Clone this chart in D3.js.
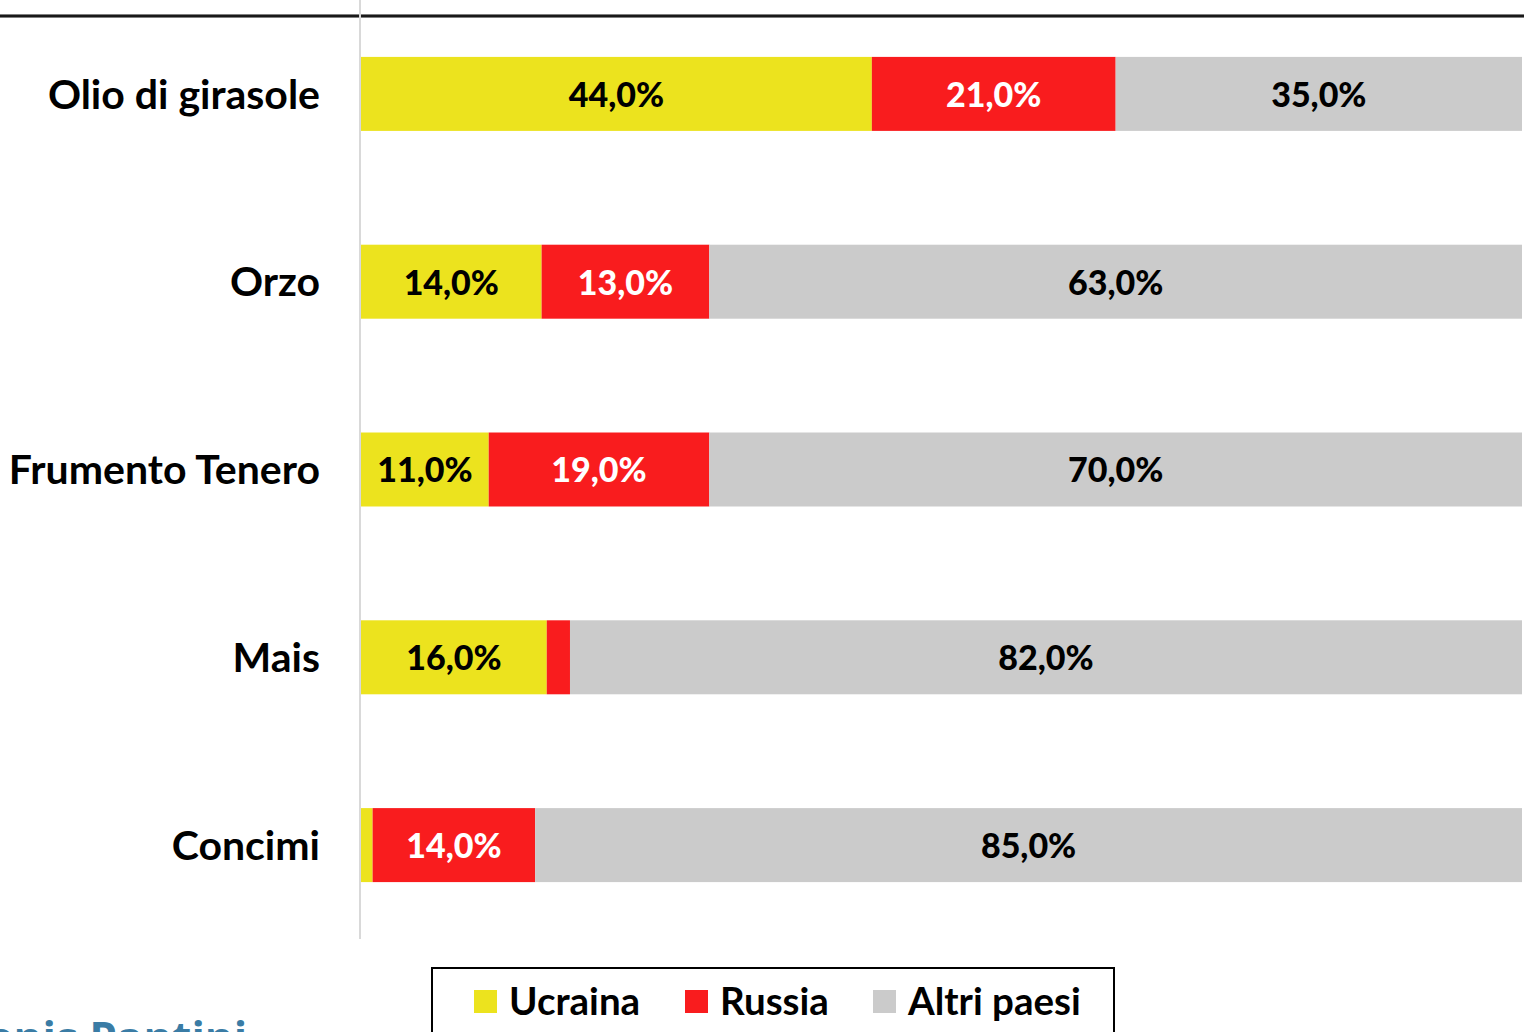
<!DOCTYPE html>
<html><head><meta charset="utf-8">
<script src="https://cdn.jsdelivr.net/npm/d3@7"></script>
<style>body{margin:0;background:#fff;overflow:hidden}svg{display:block}</style>
</head><body>
<svg id="c" width="1524" height="1032"></svg>
<script>
const categories = ["Olio di girasole","Orzo","Frumento Tenero","Mais","Concimi"];
const seriesNames = ["Ucraina","Russia","Altri paesi"];
const ucraina = [44,14,11,16,1];
const russia  = [21,13,19,2,14];
const altri   = [35,63,70,82,85];
const colors = ["#ece31e","#f91c1e","#cbcbcb"];
const labelColors = ["#000","#fff","#000"];
const FONT = "Lato, 'Open Sans', sans-serif";

const svg = d3.select("#c");
const rows = categories.map((c,i)=>({cat:c,"Ucraina":ucraina[i],"Russia":russia[i],"Altri paesi":altri[i]}));
const stack = d3.stack().keys(seriesNames).offset(d3.stackOffsetExpand)(rows);

const x = d3.scaleLinear().domain([0,1]).range([361,1522]);
const y = d3.scaleBand().domain(categories).range([0,939]).paddingInner(0.606).paddingOuter(0.303);

// top rule
svg.append("line").attr("x1",0).attr("x2",1524).attr("y1",16).attr("y2",16).attr("stroke","#000").attr("stroke-width",3);
svg.append("line").attr("x1",0).attr("x2",1524).attr("y1",16).attr("y2",16).attr("stroke","#555").attr("stroke-width",0.6);

// bars
const g = svg.append("g");
stack.forEach((s,si)=>{
  g.selectAll(null).data(s).join("rect")
    .attr("x",d=>x(d[0])).attr("width",d=>x(d[1])-x(d[0]))
    .attr("y",d=>y(d.data.cat)).attr("height",y.bandwidth())
    .attr("fill",colors[si]);
  g.selectAll(null).data(s.filter(d=>d.data[seriesNames[si]]>=5)).join("text")
    .attr("x",d=>(x(d[0])+x(d[1]))/2).attr("y",d=>y(d.data.cat)+y.bandwidth()/2)
    .attr("dy","0.38em").attr("text-anchor","middle")
    .attr("font-family",FONT).attr("font-weight",900).attr("font-size",34)
    .attr("fill",labelColors[si])
    .text(d=>d.data[seriesNames[si]].toFixed(1).replace(".",",")+"%");
});

// y axis
const ax = svg.append("g").attr("transform","translate(360,0)")
  .call(d3.axisLeft(y).tickSize(0).tickPadding(40));
ax.select(".domain").attr("stroke","#d9d9d9").attr("stroke-width",2).attr("d","M0,0V939");
ax.selectAll("text").attr("font-family",FONT).attr("font-weight",700).attr("font-size",41).attr("fill","#000").attr("dy","0.36em");

// legend
const lg = svg.append("g");
lg.append("rect").attr("x",432).attr("y",968).attr("width",682).attr("height",100)
  .attr("fill","#fff").attr("stroke","#000").attr("stroke-width",2);
const lx = [474,685,873];
seriesNames.forEach((n,i)=>{
  lg.append("rect").attr("x",lx[i]).attr("y",990).attr("width",23).attr("height",23).attr("fill",colors[i]);
  lg.append("text").attr("x",lx[i]+35).attr("y",1015).attr("font-family",FONT).attr("font-weight",700)
    .attr("font-size",38.5).attr("fill","#000").text(n);
});

// author (cropped at bottom edge, as in the reference)
svg.append("text").attr("x",-45).attr("y",1054).attr("font-family","'Open Sans', sans-serif").attr("font-weight",700)
  .attr("font-size",44).attr("fill","#3a7ca5").text("Denis Pantini");
</script>
</body></html>
